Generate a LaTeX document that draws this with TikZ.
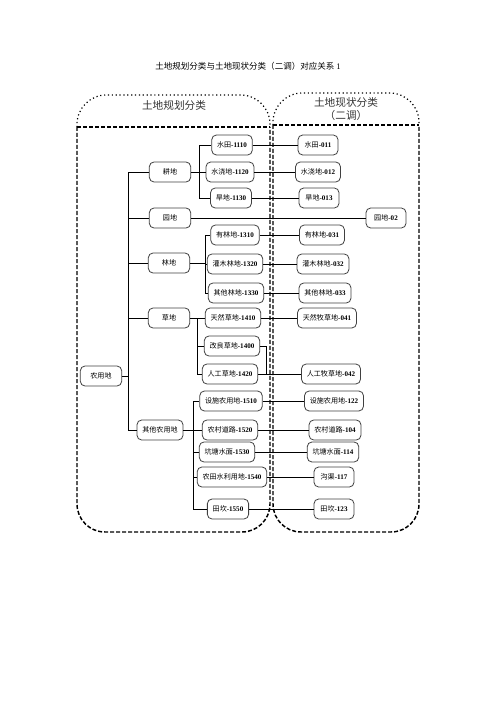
\documentclass[tikz,border=0pt]{standalone}
\usepackage{fontspec}
\setmainfont{Liberation Serif}
\newfontfamily\cjk{Noto Sans CJK SC}
\usepackage{tikz}
\usetikzlibrary{calc}
\newcommand\dig[1]{{\rmfamily\bfseries #1}}
\tikzset{
  landbox/.style={draw=black!75,fill=white,rounded corners=3.5pt,line width=0.6pt,
    minimum height=15pt,minimum width=30pt,inner xsep=4pt,inner ysep=1pt,
    font=\cjk\fontsize{5.3}{6.4}\selectfont},
  link/.style={line width=0.7pt},
  dashframe/.style={dash pattern=on 3pt off 1.5pt,line width=1.1pt},
  dotarch/.style={dotted,line width=0.9pt,rounded corners=22pt},
  boxtitle/.style={font=\cjk\fontsize{8}{9.6}\selectfont,align=center,text=black!80}
}

\begin{document}
\begin{tikzpicture}[x=0.75pt,y=-0.75pt]
  \useasboundingbox (0,0) rectangle (496,702);
  \node[font=\cjk\fontsize{6.4}{7.7}\selectfont] (ttl) at (248,66)
    {土地规划分类与土地现状分类（二调）对应关系 {\rmfamily 1}};

  % frames
  \draw[dotarch] (77,127) -- (77,95) -- (270,95) -- (270,127);
  \draw[dashframe] (77,127) -- (270,127);
  \draw[dashframe,rounded corners=21pt] (77,127) -- (77,532) -- (270,532) -- (270,127);
  \node[boxtitle] (ghtl) at (174,105) {土地规划分类};

  \draw[dotarch] (273,125) -- (273,93) -- (419,93) -- (419,125);
  \draw[dashframe] (273,125) -- (419,125);
  \draw[dashframe,rounded corners=21pt] (273,125) -- (273,532) -- (419,532) -- (419,125);
  \node[boxtitle] (xztl) at (346,109) {土地现状分类\\（二调）};

  % planning classes
  \foreach \n/\x/\y/\lab in {nyd/101/376/农用地, gd/170/172/耕地, yd/170/218/园地,
      ld/169/263/林地, cd/169/318/草地, qt/160/430/其他农用地}{
    \node[landbox,minimum width=31pt] (\n) at (\x,\y) {\lab};
  }
  \foreach \n/\x/\y/\lab in {
      st1110/232/145/水田\dig{-1110}, sj1120/230/172/水浇地\dig{-1120},
      hd1130/231/198/旱地\dig{-1130}, yl1310/235/235/有林地\dig{-1310},
      gm1320/235/264/灌木林地\dig{-1320}, qt1330/236/293/其他林地\dig{-1330},
      tr1410/233/318/天然草地\dig{-1410}, gl1400/232/346/改良草地\dig{-1400},
      rg1420/230/374/人工草地\dig{-1420}, ss1510/231/401/设施农用地\dig{-1510},
      nc1520/230/430/农村道路\dig{-1520}, kt1530/227/452/坑塘水面\dig{-1530},
      nt1540/232/477/农田水利用地\dig{-1540}, tk1550/228/509/田坎\dig{-1550}}{
    \node[landbox] (\n) at (\x,\y) {\lab};
  }

  % current-state classes
  \foreach \n/\x/\y/\lab in {
      st011/318/145/水田\dig{-011}, sj012/318/172/水浇地\dig{-012},
      hd013/319/198/旱地\dig{-013}, yd02/386/218/园地\dig{-02},
      yl031/322/235/有林地\dig{-031}, gm032/323/264/灌木林地\dig{-032},
      qt033/325/293/其他林地\dig{-033}, tr041/327/318/天然牧草地\dig{-041},
      rg042/331/374/人工牧草地\dig{-042}, ss122/334/401/设施农用地\dig{-122},
      nc104/335/430/农村道路\dig{-104}, kt114/333/452/坑塘水面\dig{-114},
      gq117/334/477/沟渠\dig{-117}, tk123/334/509/田坎\dig{-123}}{
    \node[landbox] (\n) at (\x,\y) {\lab};
  }

  % tree links
  \coordinate (trunk) at (128,376);
  \draw[link] (nyd) -- (trunk);
  \foreach \n in {gd,yd,ld,cd,qt}
    \draw[link] (trunk) |- (\n);

  \coordinate (bgd) at (199,172);
  \coordinate (bld) at (205,263);
  \coordinate (bcd) at (197,318);
  \coordinate (bqt) at (193,430);
  \foreach \p/\b in {gd/bgd,ld/bld,cd/bcd,qt/bqt}
    \draw[link] (\p) -- (\b);
  \foreach \b/\n in {bgd/st1110,bgd/sj1120,bgd/hd1130,
      bld/yl1310,bld/gm1320,bld/qt1330,
      bcd/tr1410,bcd/gl1400,bcd/rg1420,
      bqt/ss1510,bqt/nc1520,bqt/kt1530,bqt/nt1540,bqt/tk1550}
    \draw[link] (\b) |- (\n);

  % correspondence links
  \draw[link] (yd) -- (yd02);
  \foreach \a/\b in {st1110/st011,sj1120/sj012,hd1130/hd013,
      yl1310/yl031,gm1320/gm032,qt1330/qt033,tr1410/tr041,rg1420/rg042,
      ss1510/ss122,nc1520/nc104,kt1530/kt114,nt1540/gq117,tk1550/tk123}
    \draw[link] (\a) -- (\b);
  \coordinate (jn) at (266,374);
  \draw[link] (gl1400) -| (jn);
\end{tikzpicture}
\end{document}
